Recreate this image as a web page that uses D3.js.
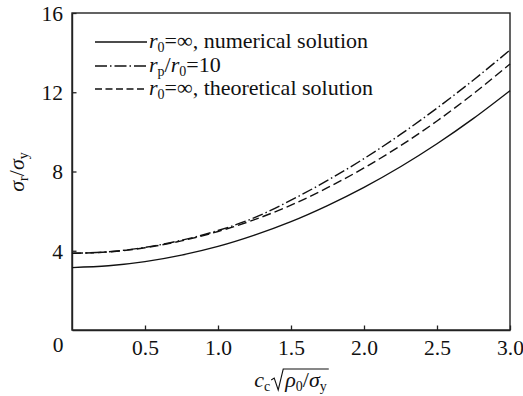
<!DOCTYPE html>
<html><head><meta charset="utf-8">
<script src="https://cdn.jsdelivr.net/npm/d3@7"></script>
<style>body{margin:0;background:#fff}svg{display:block}</style>
</head><body><svg id="c" width="523" height="396"></svg>
<script>
// ---- data ----
const xValues     = [0, 0.25, 0.5, 0.75, 1.0, 1.25, 1.5, 1.75, 2.0, 2.25, 2.5, 2.75, 3.0];
const numerical   = [3.15, 3.24, 3.45, 3.78, 4.22, 4.79, 5.47, 6.28, 7.20, 8.24, 9.40, 10.68, 12.08];
const ratio10     = [3.87, 3.95, 4.17, 4.53, 5.02, 5.67, 6.55, 7.55, 8.65, 9.87, 11.20, 12.62, 14.13];
const theoretical = [3.87, 3.94, 4.15, 4.50, 4.97, 5.57, 6.30, 7.18, 8.18, 9.30, 10.55, 11.93, 13.43];
const xTicks = [0.5, 1.0, 1.5, 2.0, 2.5, 3.0];
const xTickLabels = ["0.5", "1.0", "1.5", "2.0", "2.5", "3.0"];
const yTicks = [4, 8, 12, 16];
const originLabel = "0";

const FONT = '"Liberation Serif", Tinos';
const svg = d3.select("#c").style("font-family", FONT);
const L = 72, R = 510, T = 13, B = 330;
const x = d3.scaleLinear().domain([0, 3]).range([L, R]);
const y = d3.scaleLinear().domain([0, 16]).range([B, T]);
const ink = "#222";

// frame
svg.append("rect").attr("x", L).attr("y", T).attr("width", R - L).attr("height", B - T)
  .attr("fill", "none").attr("stroke", ink).attr("stroke-width", 1.4);

// axes (inward ticks)
const xAxis = d3.axisBottom(x).tickValues(xTicks).tickSizeInner(-4.5).tickSizeOuter(0)
  .tickFormat((d, i) => xTickLabels[i]).tickPadding(10);
const gx = svg.append("g").attr("transform", `translate(0,${B})`).call(xAxis);
const yAxis = d3.axisLeft(y).tickValues(yTicks).tickSizeInner(-4.5).tickSizeOuter(0).tickPadding(9);
const gy = svg.append("g").attr("transform", `translate(${L},0)`).call(yAxis);
[gx, gy].forEach(g => {
  g.attr("font-family", null).attr("font-size", null);
  g.select(".domain").attr("stroke", ink).attr("stroke-width", 1.4);
  g.selectAll(".tick line").attr("stroke", ink).attr("stroke-width", 1.3);
  g.selectAll(".tick text").style("font-family", FONT).style("font-size", "21.5px").attr("fill", "#111");
});
gx.selectAll(".tick text").attr("dy", "0.71em");
gy.selectAll(".tick text").attr("dy", "0.34em");
svg.append("text").attr("x", 58).attr("y", 352).attr("text-anchor", "middle")
  .style("font-family", FONT).style("font-size", "21.5px").attr("fill", "#111").text(originLabel);

// curves
const series = [
  { vals: numerical, dash: null, legDash: null },
  { vals: ratio10, dash: "11,3,1.5,3", legDash: "12,3,1.5,3" },
  { vals: theoretical, dash: "9,4", legDash: "7,3.5" }
];
const line = d3.line().x((d, i) => x(xValues[i])).y(d => y(d)).curve(d3.curveMonotoneX);
series.forEach(s => {
  svg.append("path").attr("d", line(s.vals)).attr("fill", "none").attr("stroke", "#111")
    .attr("stroke-width", 1.4).attr("stroke-dasharray", s.dash);
});

// legend
const legend = [
  [["r", "i"], ["0", "s"], ["=∞, numerical solution", "n"]],
  [["r", "i"], ["p", "s"], ["/", "n"], ["r", "i"], ["0", "s"], ["=10", "n"]],
  [["r", "i"], ["0", "s"], ["=∞, theoretical solution", "n"]]
];
const legY = [42, 66, 89];
legend.forEach((parts, k) => {
  svg.append("line").attr("x1", 95).attr("x2", 147).attr("y1", legY[k]).attr("y2", legY[k])
    .attr("stroke", "#111").attr("stroke-width", 1.4).attr("stroke-dasharray", series[k].legDash);
  const t = svg.append("text").attr("x", 149).attr("y", legY[k] + 6)
    .style("font-family", FONT).style("font-size", "22px").attr("fill", "#111");
  let sub = false;
  parts.forEach(([s, st]) => {
    const ts = t.append("tspan").text(s);
    if (st === "i") ts.style("font-style", "italic");
    if (st === "s") { ts.style("font-size", "14px").attr("dy", 4); sub = true; }
    else if (sub) { ts.attr("dy", -4); sub = false; }
  });
});

// y label: sigma_r / sigma_y
const yl = svg.append("text").attr("transform", "translate(24,172) rotate(-90)")
  .attr("text-anchor", "middle").style("font-family", FONT).style("font-size", "22px").attr("fill", "#111");
yl.append("tspan").style("font-style", "italic").text("σ");
yl.append("tspan").style("font-size", "14px").attr("dy", 4).text("r");
yl.append("tspan").attr("dy", -4).text("/");
yl.append("tspan").style("font-style", "italic").text("σ");
yl.append("tspan").style("font-size", "14px").attr("dy", 4).text("y");

// x label: c_c sqrt(rho_0 / sigma_y)
const base = 387;
const t1 = svg.append("text").attr("y", base).style("font-family", FONT).style("font-size", "22px").attr("fill", "#111");
t1.append("tspan").style("font-style", "italic").text("c");
t1.append("tspan").style("font-size", "14px").attr("dy", 4).text("c");
const t2 = svg.append("text").attr("y", base).style("font-family", FONT).style("font-size", "22px").attr("fill", "#111");
t2.append("tspan").style("font-style", "italic").text("ρ");
t2.append("tspan").style("font-size", "14px").attr("dy", 4).text("0");
t2.append("tspan").attr("dy", -4).text("/");
t2.append("tspan").style("font-style", "italic").text("σ");
t2.append("tspan").style("font-size", "14px").attr("dy", 4).text("y");
const w1 = t1.node().getComputedTextLength();
const w2 = t2.node().getComputedTextLength();
const radW = 13, gap = 1;
const total = w1 + gap + radW + w2 + 2;
const x0 = 291 - total / 2;
t1.attr("x", x0);
const rx = x0 + w1 + gap;
t2.attr("x", rx + radW + 1);
const topY = base - 18;
svg.append("path")
  .attr("d", `M${rx},${base - 7} L${rx + 3},${base - 9} L${rx + 7},${base + 3} L${rx + 12},${topY} L${rx + radW + 1 + w2 + 2},${topY}`)
  .attr("fill", "none").attr("stroke", "#111").attr("stroke-width", 1.1);
</script></body></html>
